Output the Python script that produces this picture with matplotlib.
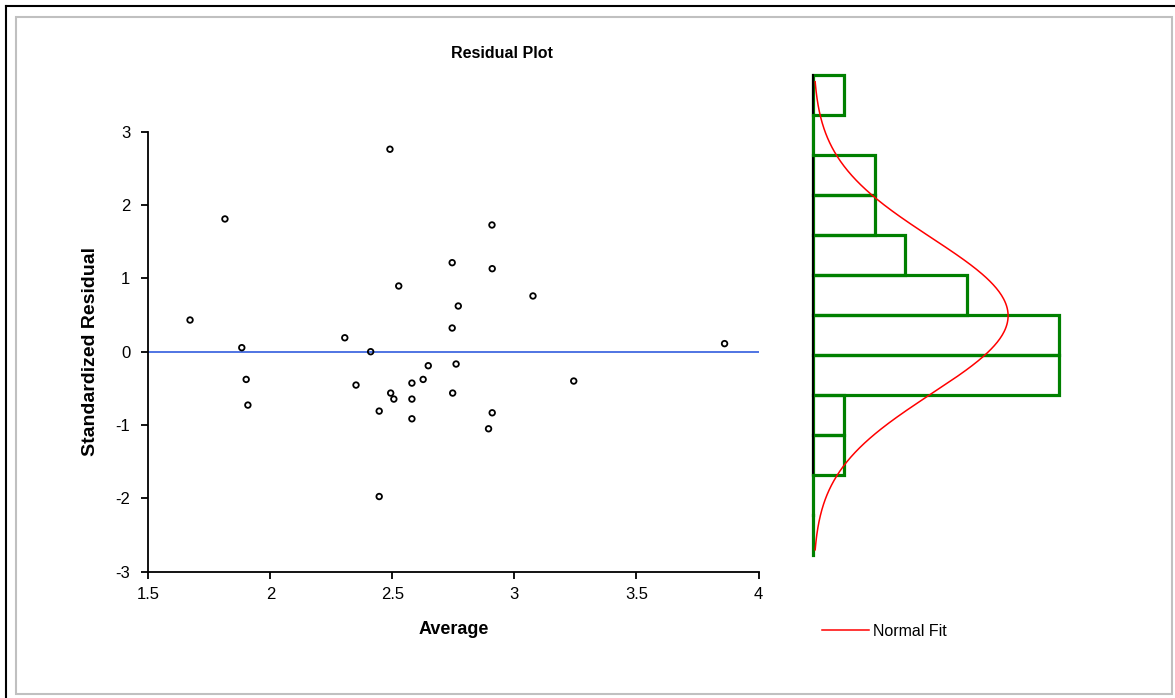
import numpy as np
import matplotlib
matplotlib.use("Agg")
import matplotlib.pyplot as plt
from matplotlib.lines import Line2D
from matplotlib.patches import Rectangle

plt.rcParams["font.family"] = ["Liberation Sans", "DejaVu Sans"]
plt.rcParams["axes.unicode_minus"] = False

# Scatter data: average vs standardized residual
average = [1.671, 1.814, 2.490, 1.883, 2.305, 2.411, 2.526, 2.745, 2.770, 2.745,
           2.647, 2.761, 2.908, 2.909, 3.076, 3.861, 1.901, 1.908, 2.351, 2.446,
           2.446, 2.493, 2.506, 2.580, 2.580, 2.580, 2.626, 2.747, 2.909, 2.894,
           3.243]
std_resid = [0.432, 1.810, 2.761, 0.055, 0.190, 0.0, 0.896, 1.214, 0.623, 0.323,
             -0.191, -0.168, 1.728, 1.132, 0.760, 0.110, -0.378, -0.728, -0.455, -0.810,
             -1.975, -0.564, -0.646, -0.428, -0.646, -0.915, -0.378, -0.564, -0.833, -1.051,
             -0.400]

# Histogram (top bin first)
hist_top = 3.77
hist_bin = 0.545
hist_counts = [1, 0, 2, 2, 3, 5, 8, 8, 1, 1, 0, 0]

# Normal fit parameters
fit_mean = 0.49
fit_sd = 1.064

W, H = 1175, 698
fig = plt.figure(figsize=(W / 100, H / 100), dpi=100)

# frame
fig.add_artist(Rectangle((16 / W, 1 - 694 / H), (1172 - 16) / W, (694 - 17) / H,
                         transform=fig.transFigure, fill=False, ec="#c0c0c0", lw=1.5))
fig.add_artist(Line2D([6 / W, 6 / W], [0, 1 - 6 / H], transform=fig.transFigure, color="black", lw=1.5))
fig.add_artist(Line2D([6 / W, 1], [1 - 6 / H, 1 - 6 / H], transform=fig.transFigure, color="black", lw=1.5))

# main scatter axes
x0, x1 = 148.3, 758.5
y0, y1 = 131.7, 571.7
ax = fig.add_axes([x0 / W, 1 - y1 / H, (x1 - x0) / W, (y1 - y0) / H])
ax.scatter(average, std_resid, s=16, facecolors="none", edgecolors="black", linewidths=1.3, zorder=3)
ax.axhline(0, color="#4169E1", lw=1.3, zorder=2)
ax.set_xlim(1.5, 4)
ax.set_ylim(-3, 3)
ax.set_xticks([1.5, 2, 2.5, 3, 3.5, 4])
ax.set_xticklabels(["1.5", "2", "2.5", "3", "3.5", "4"])
ax.set_yticks([-3, -2, -1, 0, 1, 2, 3])
ax.spines["top"].set_visible(False)
ax.spines["right"].set_visible(False)
for s in ("left", "bottom"):
    ax.spines[s].set_linewidth(1.3)
ax.tick_params(direction="out", length=5, width=1.3, labelsize=12, pad=6)
ax.tick_params(axis="y", pad=8)
ax.set_xlabel("Average", fontsize=13, fontweight="bold", labelpad=14)
ax.set_ylabel("Standardized Residual", fontsize=14, fontweight="bold", labelpad=12)
fig.text(502 / W, 1 - 53 / H, "Residual Plot", fontsize=11.5, fontweight="bold", ha="center", va="center")

# histogram axes (same vertical scale as main)
hx0 = 813
unit = 30.8
ax_h = fig.add_axes([hx0 / W, 1 - y1 / H, (1120 - hx0) / W, (y1 - y0) / H])
ax_h.set_ylim(-3, 3)
ax_h.set_xlim(0, (1120 - hx0) / unit)
ax_h.axis("off")
edges = hist_top - hist_bin * np.arange(len(hist_counts) + 1)
nz = [i for i, c in enumerate(hist_counts) if c > 0]
for i, c in enumerate(hist_counts):
    if c > 0:
        ax_h.add_patch(Rectangle((0, edges[i + 1]), c, hist_bin, fill=False,
                                 ec="#008000", lw=2.3, clip_on=False, zorder=2))
ax_h.plot([0, 0], [edges[nz[-1] + 1], edges[nz[0]]], color="black", lw=1.5, clip_on=False, zorder=3)
for i, c in enumerate(hist_counts):
    if c == 0:
        ax_h.plot([0, 0], [edges[i + 1], edges[i]], color="#008000", lw=2.3, clip_on=False, zorder=4)

yy = np.linspace(fit_mean - 3 * fit_sd, fit_mean + 3 * fit_sd, 400)
n = sum(hist_counts)
dens = n * hist_bin / (fit_sd * np.sqrt(2 * np.pi)) * np.exp(-0.5 * ((yy - fit_mean) / fit_sd) ** 2)
ax_h.plot(dens, yy, color="red", lw=1.1, clip_on=False, zorder=5, label="Normal Fit")
ax_h.legend(loc="center left", bbox_to_anchor=(808 / W, 1 - 631 / H), bbox_transform=fig.transFigure,
            frameon=False, fontsize=11.5, handlelength=2.9, handletextpad=0.3)

fig.savefig("out.png", dpi=100)
